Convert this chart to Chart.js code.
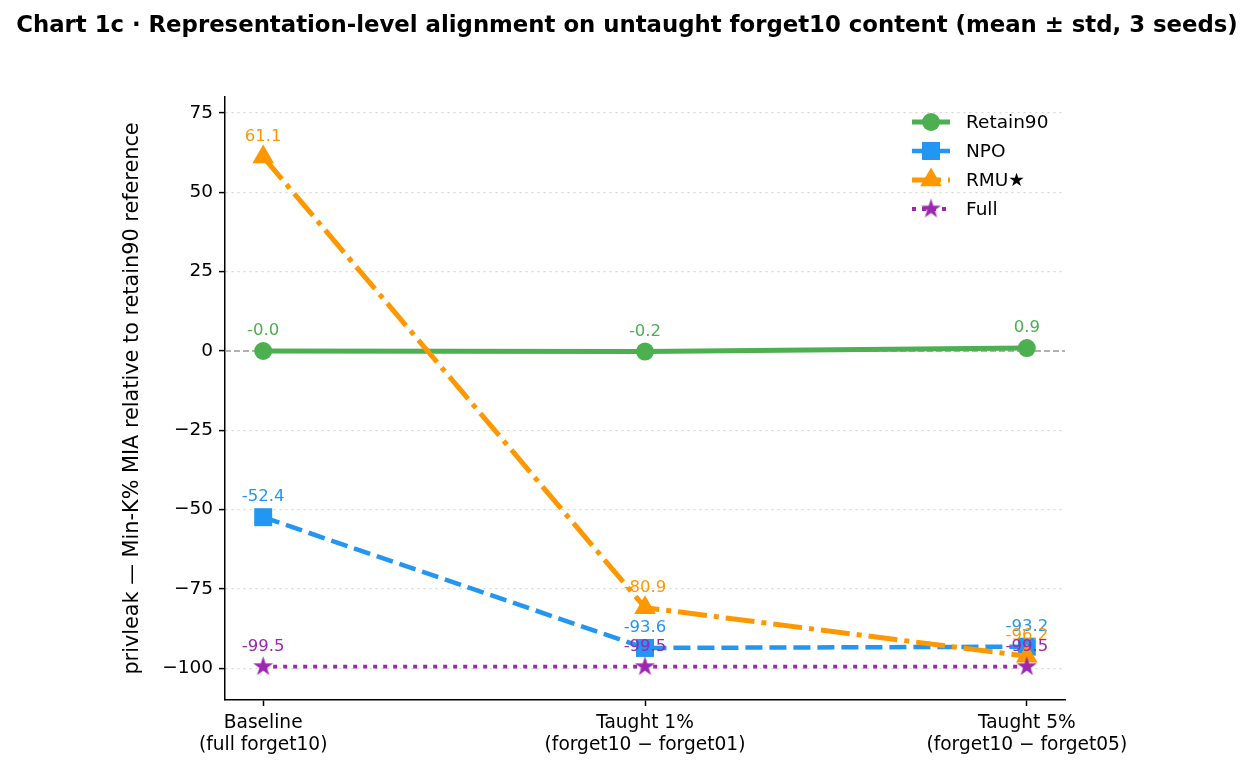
<!DOCTYPE html>
<html>
<head>
<meta charset="utf-8">
<script src="https://cdn.jsdelivr.net/npm/chart.js@4.4.1/dist/chart.umd.min.js"></script>
<style>
  html, body { margin: 0; padding: 0; background: #fff; }
  canvas { display: block; }
</style>
</head>
<body>
<canvas id="chart" width="1254" height="771"></canvas>
<script>
// data
const categories = [
  ['Baseline', '(full forget10)'],
  ['Taught 1%', '(forget10 \u2212 forget01)'],
  ['Taught 5%', '(forget10 \u2212 forget05)']
];
const seriesNames = ['Retain90', 'NPO', 'RMU\u2605', 'Full'];
const retain90 = [-0.03, -0.2, 0.9];
const npo = [-52.4, -93.6, -93.2];
const rmu = [61.1, -80.9, -96.2];
const full = [-99.5, -99.5, -99.5];
const yTicks = [-100, -75, -50, -25, 0, 25, 50, 75];

const FONT = "'DejaVu Sans', sans-serif";
Chart.defaults.font.family = FONT;
Chart.defaults.color = '#000';

// filled star marker like matplotlib '*'
function makeStar(color, r) {
  const c = document.createElement('canvas');
  const s = Math.ceil(r * 2 + 2);
  c.width = s; c.height = s;
  const g = c.getContext('2d');
  const inner = r * 0.382;
  g.beginPath();
  for (let i = 0; i < 10; i++) {
    const rad = (i % 2 === 0) ? r : inner;
    const a = -Math.PI / 2 + i * Math.PI / 5;
    const px = s / 2 + rad * Math.cos(a);
    const py = s / 2 + rad * Math.sin(a);
    if (i === 0) g.moveTo(px, py); else g.lineTo(px, py);
  }
  g.closePath();
  g.fillStyle = color;
  g.fill();
  return c;
}

const colors = ['#4CAF50', '#2196F3', '#FF9800', '#9C27B0'];
const starImg = makeStar(colors[3], 10.5);

function toPoints(arr) {
  return arr.map((v, i) => ({ x: i, y: v }));
}

const datasets = [
  { label: seriesNames[0], data: toPoints(retain90), borderColor: colors[0], backgroundColor: colors[0],
    borderWidth: 5, borderDash: [], pointStyle: 'circle', pointRadius: 9, order: 3 },
  { label: seriesNames[1], data: toPoints(npo), borderColor: colors[1], backgroundColor: colors[1],
    borderWidth: 4.5, borderDash: [17, 7], pointStyle: 'rect', pointRadius: 12.7, order: 2 },
  { label: seriesNames[2], data: toPoints(rmu), borderColor: colors[2], backgroundColor: colors[2],
    borderWidth: 5, borderDash: [29, 7, 5, 7], pointStyle: 'triangle', pointRadius: 12.5, order: 1 },
  { label: seriesNames[3], data: toPoints(full), borderColor: colors[3], backgroundColor: colors[3],
    borderWidth: 3.8, borderDash: [4, 6], pointStyle: starImg, pointRadius: 10, order: 0 }
];
datasets.forEach(d => {
  d.pointBorderWidth = 0;
  d.pointHoverRadius = d.pointRadius;
  d.tension = 0;
  d.fill = false;
  d.clip = false;
});

const fmtTick = v => (v < 0 ? '\u2212' + Math.abs(v) : String(v));

const decorations = {
  id: 'decorations',
  beforeDraw(chart) {
    const ctx = chart.ctx;
    ctx.save();
    ctx.fillStyle = '#fff';
    ctx.fillRect(0, 0, chart.width, chart.height);
    ctx.restore();
  },
  beforeDatasetsDraw(chart) {
    // dashed zero reference line
    const ctx = chart.ctx;
    const area = chart.chartArea;
    const y0 = chart.scales.y.getPixelForValue(0);
    ctx.save();
    ctx.strokeStyle = '#999';
    ctx.lineWidth = 1.5;
    ctx.setLineDash([6, 3]);
    ctx.beginPath();
    ctx.moveTo(area.left, y0);
    ctx.lineTo(area.right, y0);
    ctx.stroke();
    ctx.restore();
  },
  afterDraw(chart) {
    const ctx = chart.ctx;
    const area = chart.chartArea;
    ctx.save();

    // value labels above each point
    ctx.font = '16.5px ' + FONT;
    ctx.textAlign = 'center';
    ctx.textBaseline = 'middle';
    chart.data.datasets.forEach((ds, di) => {
      const meta = chart.getDatasetMeta(di);
      meta.data.forEach((pt, i) => {
        ctx.fillStyle = ds.borderColor;
        ctx.fillText(ds.data[i].y.toFixed(1), pt.x, pt.y - 20);
      });
    });

    // title
    ctx.font = 'bold 22.8px ' + FONT;
    ctx.fillStyle = '#000';
    ctx.fillText('Chart 1c \u00b7 Representation-level alignment on untaught forget10 content (mean \u00b1 std, 3 seeds)', 627, 26);

    // y axis title
    ctx.save();
    ctx.translate(133, (area.top + area.bottom) / 2);
    ctx.rotate(-Math.PI / 2);
    ctx.font = '20.8px ' + FONT;
    ctx.fillText('privleak \u2014 Min-K% MIA relative to retain90 reference', 0, 0);
    ctx.restore();

    // legend with line + marker handles
    const lx0 = area.right - 153, lx1 = area.right - 115, tx = area.right - 99;
    ctx.textAlign = 'left';
    ctx.font = '18.5px ' + FONT;
    chart.data.datasets.forEach((ds, i) => {
      const y = area.top + 25 + i * 29;
      ctx.save();
      ctx.strokeStyle = ds.borderColor;
      ctx.lineWidth = ds.borderWidth;
      ctx.setLineDash(ds.borderDash);
      ctx.beginPath();
      ctx.moveTo(lx0, y);
      ctx.lineTo(lx1, y);
      ctx.stroke();
      ctx.setLineDash([]);
      ctx.fillStyle = ds.backgroundColor;
      ctx.strokeStyle = ds.backgroundColor;
      Chart.helpers.drawPoint(ctx, { pointStyle: ds.pointStyle, radius: ds.pointRadius, borderWidth: 0, rotation: 0 }, (lx0 + lx1) / 2, y);
      ctx.restore();
      ctx.fillStyle = '#000';
      ctx.fillText(ds.label, tx, y + 1);
    });
    ctx.restore();
  }
};

new Chart(document.getElementById('chart'), {
  type: 'line',
  data: { datasets: datasets },
  options: {
    responsive: false,
    animation: false,
    events: [],
    layout: { padding: { top: 97, right: 189, bottom: 0, left: 0 } },
    plugins: { legend: { display: false }, tooltip: { enabled: false }, title: { display: false } },
    scales: {
      x: {
        type: 'linear',
        min: -0.1,
        max: 2.1,
        afterBuildTicks: axis => { axis.ticks = categories.map((c, i) => ({ value: i })); },
        afterFit: axis => { axis.height = 71; },
        ticks: {
          callback: v => categories[v],
          font: { size: 18.6, lineHeight: 1.2 },
          color: '#000',
          padding: 6,
          maxRotation: 0,
          autoSkip: false
        },
        grid: { drawOnChartArea: false, drawTicks: true, tickLength: 6, tickColor: '#000', tickWidth: 1.5 },
        border: { color: '#000', width: 1.5 }
      },
      y: {
        type: 'linear',
        min: -110,
        max: 80,
        afterBuildTicks: axis => { axis.ticks = yTicks.map(v => ({ value: v })); },
        afterFit: axis => { axis.width = 225; },
        ticks: {
          callback: fmtTick,
          font: { size: 18.5 },
          color: '#000',
          padding: 6
        },
        grid: {
          color: ctx => (ctx.tick && ctx.tick.value === 0 ? 'rgba(0,0,0,0)' : '#d6d6d6'),
          lineWidth: 1.2,
          drawTicks: true,
          tickLength: 6,
          tickColor: '#000',
          tickWidth: 1.5
        },
        border: { color: '#000', width: 1.5, dash: [2, 4] }
      }
    }
  },
  plugins: [decorations]
});
</script>
</body>
</html>
